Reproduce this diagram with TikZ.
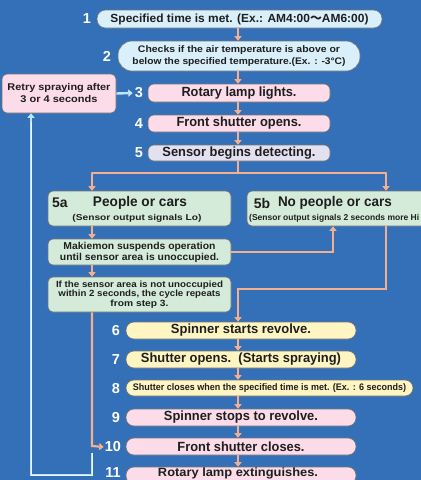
\documentclass[tikz,border=0pt]{standalone}
\usepackage{fontspec}
\usepackage{graphicx}
\setmainfont{Liberation Sans}
\newfontfamily\cjkfont{Noto Sans CJK JP}
\usetikzlibrary{arrows.meta,calc}
\definecolor{bgblue}{RGB}{52,112,183}
\definecolor{lblue}{RGB}{217,240,251}
\definecolor{lpink}{RGB}{251,220,232}
\definecolor{llav}{RGB}{227,224,240}
\definecolor{lgreen}{RGB}{213,235,217}
\definecolor{lyellow}{RGB}{255,245,194}
\definecolor{arr}{RGB}{245,174,142}
\definecolor{loopc}{RGB}{190,228,248}
\definecolor{loopi}{RGB}{236,248,255}
\definecolor{txt}{RGB}{30,30,30}
\newcommand\fsz[1]{\fontsize{#1}{#1}\selectfont}
\newcommand\tw[2]{\resizebox{#1pt}{\height}{#2}}
\tikzset{
  bx/.style={draw=black!55, line width=0.6pt, inner sep=0pt, text=txt, font=\bfseries, align=center},
  pill/.style={bx, rounded corners=8.5pt},
  pillb/.style={bx, rounded corners=14pt},
  rbox/.style={bx, rounded corners=6pt},
  gbox/.style={bx, fill=lgreen, rounded corners=5pt, minimum width=183pt},
  num/.style={text=white, font=\bfseries\fsz{14.5}, inner sep=0pt},
  lbl/.style={inner sep=0pt, text=txt, font=\bfseries},
  oarrow/.style={draw=arr, line width=2.2pt, -{Triangle[width=7pt,length=4.5pt]}},
  oline/.style={draw=arr, line width=2.2pt},
  barrow/.style={draw=loopc, line width=2.4pt, -{Triangle[width=7pt,length=4.5pt]}},
  bcore/.style={draw=loopi, line width=0.7pt}
}
\begin{document}
\begin{tikzpicture}[x=1pt,y=-1pt]
\useasboundingbox (0,0) rectangle (421,480);
\fill[bgblue] (0,0) rectangle (421,480);
\clip (0,0) rectangle (421,480);

% top boxes
\node[pill, fill=lblue, minimum width=285pt, minimum height=18pt] (b1) at (239.5,19)
  {\fsz{11.8}\tw{258}{Specified time is met. (Ex.: AM4:00{\cjkfont ～}AM6:00)}};
\node[pillb, fill=lblue, minimum width=242pt, minimum height=30pt, font=\bfseries\fontsize{9.5}{12}\selectfont] (b2) at (239,56)
  {\tw{202}{Checks if the air temperature is above or}\\\tw{213}{below the specified temperature.(Ex. : -3°C)}};
\node[rbox, fill=lpink, minimum width=182pt, minimum height=18pt] (b3) at (239,93)
  {\fsz{13.3}\tw{115}{Rotary lamp lights.}};
\node[rbox, fill=lpink, minimum width=182pt, minimum height=17pt] (b4) at (239,123.5)
  {\fsz{13.3}\tw{125}{Front shutter opens.}};
\node[rbox, fill=llav, minimum width=182pt, minimum height=16pt] (b5) at (239,153)
  {\fsz{13.3}\tw{153}{Sensor begins detecting.}};

\node[rbox, fill=lpink, rounded corners=5pt, minimum width=114pt, minimum height=39pt, font=\bfseries\fontsize{9.8}{12}\selectfont] (retry) at (59,93.5)
  {\tw{103}{Retry spraying after}\\\tw{77}{3 or 4 seconds}};

% numbers
\node[num] (n1) at (87,19) {1};
\node[num] (n2) at (107,56) {2};
\node[num] (n3) at (139,93) {3};
\node[num] (n4) at (139,124) {4};
\node[num] (n5) at (139,153) {5};

% branch boxes
\node[gbox, minimum height=35pt] (a5) at (139.5,208.5) {};
\node[lbl, font=\bfseries\fsz{14}] (a5n) at (60,203) {5a};
\node[lbl, font=\bfseries\fsz{14}] (a5t) at (140,203) {\tw{94}{People or cars}};
\node[lbl, font=\bfseries\fsz{8.5}] (a5s) at (137,218) {\tw{129}{(Sensor output signals Lo)}};

\node[gbox, minimum height=35pt] (b5b) at (338.5,208.5) {};
\node[lbl, font=\bfseries\fsz{14}] (b5bn) at (262,203) {5b};
\node[lbl, font=\bfseries\fsz{14}] (b5bt) at (335,203) {\tw{114}{No people or cars}};
\node[lbl, font=\bfseries\fsz{8.5}, anchor=west] (b5bs) at (249,218) {\tw{170}{(Sensor output signals 2 seconds more Hi}};

\node[gbox, minimum height=26pt, font=\bfseries\fontsize{10}{11}\selectfont] (mak) at (139.5,252)
  {\tw{152}{Makiemon suspends operation}\\\tw{159}{until sensor area is unoccupied.}};
\node[gbox, minimum height=35pt, font=\bfseries\fontsize{9}{9.5}\selectfont] (ifb) at (139.5,294.5)
  {\tw{167}{If the sensor area is not unoccupied}\\\tw{162}{within 2 seconds, the cycle repeats}\\\tw{58}{from step 3.}};

% lower boxes
\node[rbox, fill=lyellow, rounded corners=8pt, minimum width=230pt, minimum height=17pt] (b6) at (241,330.5)
  {\fsz{13.3}\tw{140}{Spinner starts revolve.}};
\node[rbox, fill=lyellow, rounded corners=8pt, minimum width=230pt, minimum height=17pt] (b7) at (241,359.5)
  {\fsz{13.3}\tw{200}{Shutter opens.\ \ (Starts spraying)}};
\node[rbox, fill=lyellow, rounded corners=8pt, minimum width=287pt, minimum height=16pt] (b8) at (269.5,388)
  {\fsz{9.5}\tw{273}{Shutter closes when the specified time is met. (Ex. : 6 seconds)}};
\node[rbox, fill=lpink, rounded corners=8pt, minimum width=230pt, minimum height=17pt] (b9) at (241,417.5)
  {\fsz{13.3}\tw{154}{Spinner stops to revolve.}};
\node[rbox, fill=lpink, rounded corners=8pt, minimum width=230pt, minimum height=17pt] (b10) at (241,446.5)
  {\fsz{13.3}\tw{127}{Front shutter closes.}};
\node[rbox, fill=lpink, rounded corners=8pt, minimum width=230pt, minimum height=17pt] (b11) at (241,475.5) {};
\node[lbl, font=\bfseries\fsz{12}] (b11t) at (238,473.6) {\tw{160}{Rotary lamp extinguishes.}};

\node[num] (n6) at (116,331) {6};
\node[num] (n7) at (116,360) {7};
\node[num] (n8) at (116,389) {8};
\node[num] (n9) at (116,418) {9};
\node[num] (n10) at (113,447) {10};
\node[num] (n11) at (113,472.5) {11};

% arrows top chain
\draw[oarrow] (b1.south -| 238,0) -- (b2.north -| 238,0);
\draw[oarrow] (b2.south -| 238,0) -- (b3.north -| 238,0);
\draw[oarrow] (b3.south -| 238,0) -- (b4.north -| 238,0);
\draw[oarrow] (b4.south -| 238,0) -- (b5.north -| 238,0);

% branch
\coordinate (br) at (238,173);
\coordinate (brl) at (92,173);
\coordinate (brr) at (386,173);
\draw[oline] (b5.south -| br) -- (br);
\draw[oline, line cap=round] (brl) -- (brr);
\draw[oarrow] (brl) -- (a5.north -| brl);
\draw[oarrow] (brr) -- (b5b.north -| brr);

\draw[oarrow] (a5.south -| brl) -- (mak.north -| brl);
\draw[oarrow] (mak.south -| brl) -- (ifb.north -| brl);

\coordinate (up5b) at (333,252);
\draw[oarrow] (mak.east) -- (up5b) -- (b5b.south -| up5b);

\coordinate (d5b) at (386,289);
\coordinate (d5bl) at (238,289);
\draw[oarrow] (b5b.south -| d5b) -- (d5b) -- (d5bl) -- (b6.north -| d5bl);

\draw[oarrow] (b6.south -| 238,0) -- (b7.north -| 238,0);
\draw[oarrow] (b7.south -| 238,0) -- (b8.north -| 238,0);
\draw[oarrow] (b8.south -| 238,0) -- (b9.north -| 238,0);
\draw[oarrow] (b9.south -| 238,0) -- (b10.north -| 238,0);
\draw[oarrow] (b10.south -| 238,0) -- (b11.north -| 238,0);

% if -> 10
\coordinate (to10) at (92,446);
\draw[oarrow] (ifb.south -| to10) -- (to10) -- ([xshift=-1pt]n10.west);

% loop back to retry
\coordinate (ls) at (92,453);
\coordinate (lb) at (92,475);
\coordinate (ll) at (31,475);
\coordinate (lt) at (31,122);
\draw[barrow] (ls) -- (lb) -- (ll) -- (retry.south -| ll);
\draw[bcore] (ls) -- (lb) -- (ll) -- (lt);
\draw[barrow] (retry.east) -- ([xshift=-2pt]n3.west);
\end{tikzpicture}
\end{document}
